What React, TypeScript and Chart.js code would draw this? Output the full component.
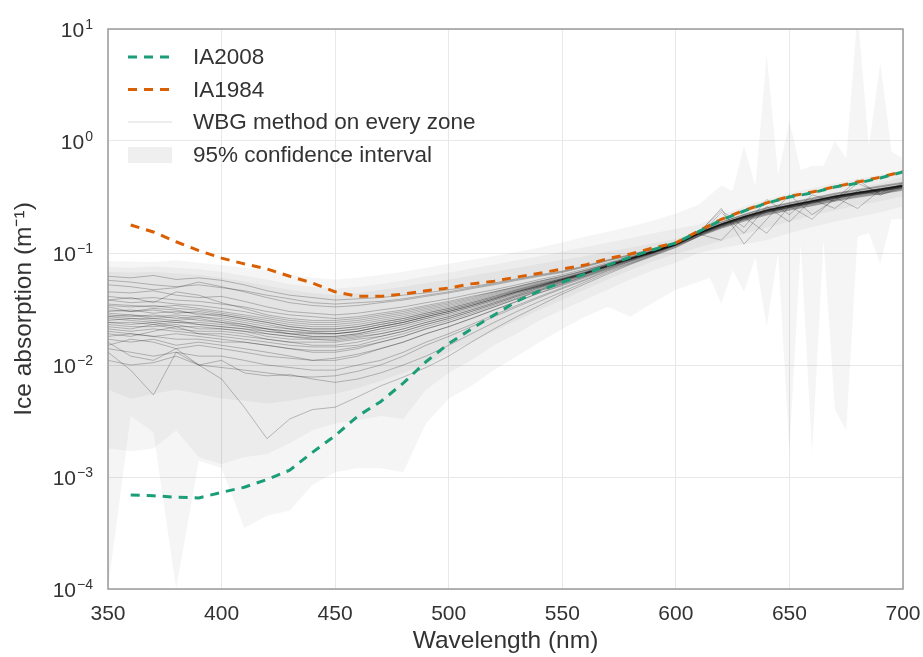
import React, { useEffect, useRef } from 'react';
import { Chart, registerables } from 'chart.js';

Chart.register(...registerables);

// ---------- data ----------
const wavelengths = [350, 360, 370, 380, 390, 400, 410, 420, 430, 440, 450, 460, 470, 480, 490, 500, 510, 520, 530, 540, 550, 560, 570, 580, 590, 600, 610, 620, 630, 640, 650, 660, 670, 680, 690, 700];
const iaWavelengths = [360, 370, 380, 390, 400, 410, 420, 430, 440, 450, 460, 470, 480, 490, 500, 510, 520, 530, 540, 550, 560, 570, 580, 590, 600, 610, 620, 630, 640, 650, 660, 670, 680, 690, 700];
const ciOuterWavelengths = [350, 360, 370, 380, 390, 400, 410, 420, 430, 440, 450, 460, 470, 480, 490, 500, 510, 520, 530, 540, 550, 560, 570, 580, 590, 600, 610, 615, 620, 625, 630, 635, 640, 645, 650, 655, 660, 665, 670, 675, 680, 685, 690, 695, 700];

const ia2008 = [0.00069, 0.00068, 0.00066, 0.00065, 0.00073, 0.00081, 0.00095, 0.00115, 0.00166, 0.00234, 0.0035, 0.0047, 0.0069, 0.0107, 0.0155, 0.021, 0.028, 0.037, 0.046, 0.055, 0.065, 0.078, 0.092, 0.107, 0.123, 0.155, 0.197, 0.237, 0.279, 0.316, 0.343, 0.389, 0.42, 0.468, 0.528];
const ia1984 = [0.178, 0.154, 0.126, 0.105, 0.09, 0.08, 0.072, 0.062, 0.054, 0.045, 0.041, 0.041, 0.043, 0.046, 0.0487, 0.053, 0.056, 0.061, 0.066, 0.072, 0.078, 0.089, 0.098, 0.111, 0.123, 0.157, 0.2, 0.24, 0.28, 0.32, 0.35, 0.39, 0.43, 0.475, 0.535];

// WBG method on every zone (one list per zone)
const zone01 = [0.062, 0.060, 0.063, 0.058, 0.060, 0.057, 0.052, 0.046, 0.042, 0.040, 0.038, 0.039, 0.040, 0.042, 0.044, 0.047, 0.050, 0.054, 0.059, 0.064, 0.069, 0.077, 0.087, 0.097, 0.109, 0.124, 0.158, 0.190, 0.222, 0.255, 0.282, 0.310, 0.342, 0.368, 0.398, 0.428];
const zone02 = [0.052, 0.050, 0.047, 0.049, 0.055, 0.050, 0.045, 0.040, 0.036, 0.034, 0.033, 0.034, 0.036, 0.038, 0.041, 0.044, 0.048, 0.052, 0.057, 0.062, 0.067, 0.075, 0.085, 0.095, 0.108, 0.123, 0.155, 0.186, 0.218, 0.250, 0.276, 0.302, 0.333, 0.360, 0.388, 0.418];
const zone03 = [0.045, 0.044, 0.046, 0.042, 0.040, 0.041, 0.037, 0.033, 0.030, 0.029, 0.028, 0.029, 0.031, 0.033, 0.036, 0.039, 0.043, 0.047, 0.052, 0.058, 0.064, 0.072, 0.082, 0.093, 0.106, 0.122, 0.153, 0.183, 0.214, 0.245, 0.270, 0.296, 0.326, 0.352, 0.378, 0.408];
const zone04 = [0.035, 0.034, 0.033, 0.034, 0.032, 0.030, 0.028, 0.026, 0.024, 0.023, 0.023, 0.024, 0.026, 0.028, 0.031, 0.034, 0.038, 0.043, 0.048, 0.054, 0.060, 0.068, 0.079, 0.090, 0.104, 0.121, 0.151, 0.181, 0.211, 0.241, 0.266, 0.291, 0.321, 0.346, 0.372, 0.402];
const zone05 = [0.028, 0.027, 0.028, 0.026, 0.027, 0.025, 0.023, 0.021, 0.020, 0.019, 0.019, 0.020, 0.022, 0.024, 0.027, 0.030, 0.034, 0.039, 0.045, 0.051, 0.058, 0.066, 0.077, 0.089, 0.103, 0.120, 0.150, 0.180, 0.210, 0.240, 0.265, 0.290, 0.320, 0.345, 0.370, 0.400];
const zone06 = [0.026, 0.025, 0.024, 0.025, 0.023, 0.022, 0.021, 0.020, 0.019, 0.018, 0.018, 0.019, 0.021, 0.023, 0.026, 0.029, 0.033, 0.038, 0.044, 0.050, 0.057, 0.066, 0.076, 0.088, 0.102, 0.120, 0.149, 0.179, 0.208, 0.238, 0.262, 0.287, 0.317, 0.342, 0.366, 0.396];
const zone07 = [0.022, 0.021, 0.023, 0.021, 0.020, 0.020, 0.019, 0.017, 0.016, 0.016, 0.016, 0.017, 0.018, 0.020, 0.023, 0.026, 0.030, 0.035, 0.041, 0.048, 0.055, 0.064, 0.075, 0.087, 0.101, 0.119, 0.147, 0.176, 0.205, 0.234, 0.258, 0.283, 0.312, 0.337, 0.361, 0.390];
const zone08 = [0.020, 0.019, 0.018, 0.019, 0.018, 0.017, 0.016, 0.015, 0.014, 0.013, 0.013, 0.014, 0.016, 0.018, 0.021, 0.024, 0.028, 0.033, 0.039, 0.046, 0.053, 0.062, 0.073, 0.085, 0.100, 0.118, 0.145, 0.173, 0.201, 0.229, 0.253, 0.277, 0.305, 0.330, 0.354, 0.382];
const zone09 = [0.017, 0.016, 0.017, 0.015, 0.016, 0.015, 0.014, 0.013, 0.012, 0.011, 0.011, 0.012, 0.014, 0.016, 0.019, 0.022, 0.026, 0.031, 0.037, 0.044, 0.052, 0.061, 0.072, 0.084, 0.099, 0.117, 0.143, 0.170, 0.197, 0.224, 0.248, 0.271, 0.298, 0.322, 0.346, 0.373];
const zone10 = [0.014, 0.013, 0.012, 0.013, 0.012, 0.012, 0.011, 0.010, 0.0095, 0.009, 0.009, 0.010, 0.011, 0.013, 0.016, 0.019, 0.023, 0.028, 0.034, 0.041, 0.049, 0.058, 0.070, 0.082, 0.097, 0.116, 0.141, 0.168, 0.195, 0.221, 0.244, 0.267, 0.294, 0.318, 0.341, 0.368];
const zone11 = [0.011, 0.010, 0.0105, 0.012, 0.010, 0.0095, 0.009, 0.0085, 0.008, 0.0078, 0.008, 0.0088, 0.010, 0.012, 0.015, 0.018, 0.022, 0.027, 0.033, 0.040, 0.048, 0.057, 0.069, 0.081, 0.096, 0.115, 0.140, 0.166, 0.192, 0.218, 0.241, 0.264, 0.290, 0.314, 0.337, 0.363];
const zone12 = [0.016, 0.012, 0.011, 0.014, 0.010, 0.0075, 0.0042, 0.0022, 0.0033, 0.0040, 0.0042, 0.0052, 0.0065, 0.0078, 0.0095, 0.012, 0.016, 0.021, 0.027, 0.034, 0.043, 0.053, 0.065, 0.079, 0.094, 0.112, 0.140, 0.230, 0.150, 0.260, 0.190, 0.300, 0.250, 0.360, 0.330, 0.380];
const zone13 = [0.013, 0.009, 0.0054, 0.013, 0.010, 0.011, 0.0085, 0.0080, 0.0082, 0.0075, 0.0070, 0.0075, 0.0085, 0.010, 0.012, 0.015, 0.019, 0.024, 0.030, 0.037, 0.045, 0.055, 0.067, 0.080, 0.095, 0.113, 0.142, 0.172, 0.200, 0.230, 0.255, 0.280, 0.308, 0.333, 0.357, 0.385];
const zone14 = [0.038, 0.040, 0.036, 0.045, 0.042, 0.036, 0.032, 0.028, 0.026, 0.025, 0.025, 0.026, 0.028, 0.030, 0.033, 0.036, 0.040, 0.045, 0.050, 0.056, 0.062, 0.070, 0.080, 0.092, 0.105, 0.121, 0.152, 0.240, 0.170, 0.300, 0.220, 0.330, 0.290, 0.420, 0.340, 0.420];
const zone15 = [0.030, 0.031, 0.029, 0.030, 0.029, 0.027, 0.025, 0.023, 0.021, 0.020, 0.020, 0.021, 0.023, 0.025, 0.028, 0.031, 0.035, 0.040, 0.046, 0.052, 0.059, 0.067, 0.078, 0.089, 0.103, 0.120, 0.150, 0.180, 0.210, 0.239, 0.264, 0.289, 0.319, 0.344, 0.369, 0.399];
const zone16 = [0.024, 0.023, 0.024, 0.022, 0.022, 0.021, 0.020, 0.018, 0.017, 0.017, 0.017, 0.018, 0.019, 0.021, 0.024, 0.027, 0.031, 0.036, 0.042, 0.049, 0.056, 0.065, 0.076, 0.088, 0.102, 0.119, 0.148, 0.130, 0.210, 0.150, 0.262, 0.200, 0.315, 0.250, 0.365, 0.395];
const zone17 = [0.019, 0.018, 0.020, 0.022, 0.019, 0.018, 0.017, 0.016, 0.015, 0.0145, 0.0145, 0.015, 0.017, 0.019, 0.022, 0.025, 0.029, 0.034, 0.040, 0.047, 0.054, 0.063, 0.074, 0.086, 0.100, 0.118, 0.146, 0.174, 0.203, 0.232, 0.256, 0.280, 0.309, 0.334, 0.358, 0.386];
const zone18 = [0.033, 0.030, 0.032, 0.031, 0.028, 0.028, 0.026, 0.024, 0.022, 0.021, 0.021, 0.022, 0.024, 0.026, 0.029, 0.032, 0.036, 0.041, 0.047, 0.053, 0.059, 0.067, 0.078, 0.090, 0.104, 0.121, 0.151, 0.181, 0.211, 0.241, 0.266, 0.291, 0.321, 0.346, 0.371, 0.401];
const zone19 = [0.027, 0.026, 0.026, 0.027, 0.025, 0.024, 0.022, 0.021, 0.019, 0.019, 0.019, 0.020, 0.022, 0.024, 0.027, 0.030, 0.034, 0.039, 0.045, 0.051, 0.058, 0.066, 0.077, 0.089, 0.103, 0.120, 0.150, 0.250, 0.120, 0.200, 0.330, 0.220, 0.300, 0.450, 0.330, 0.400];
const zone20 = [0.015, 0.017, 0.016, 0.014, 0.015, 0.014, 0.013, 0.012, 0.0115, 0.011, 0.0115, 0.0125, 0.014, 0.016, 0.019, 0.022, 0.026, 0.031, 0.037, 0.044, 0.051, 0.060, 0.071, 0.084, 0.098, 0.117, 0.144, 0.171, 0.199, 0.226, 0.250, 0.274, 0.301, 0.326, 0.350, 0.377];
const zone21 = [0.057, 0.055, 0.052, 0.050, 0.052, 0.049, 0.046, 0.042, 0.039, 0.036, 0.035, 0.036, 0.037, 0.039, 0.042, 0.045, 0.049, 0.053, 0.058, 0.063, 0.068, 0.076, 0.086, 0.096, 0.108, 0.123, 0.156, 0.188, 0.220, 0.252, 0.279, 0.306, 0.338, 0.364, 0.392, 0.422];
const zone22 = [0.041, 0.039, 0.040, 0.038, 0.037, 0.035, 0.033, 0.030, 0.028, 0.027, 0.026, 0.027, 0.029, 0.031, 0.034, 0.037, 0.041, 0.045, 0.050, 0.056, 0.062, 0.070, 0.080, 0.091, 0.105, 0.121, 0.152, 0.182, 0.213, 0.243, 0.268, 0.293, 0.323, 0.348, 0.374, 0.404];
const zone23 = [0.031, 0.030, 0.031, 0.029, 0.030, 0.028, 0.026, 0.024, 0.022, 0.021, 0.021, 0.022, 0.024, 0.026, 0.029, 0.032, 0.036, 0.041, 0.046, 0.052, 0.058, 0.066, 0.077, 0.089, 0.103, 0.120, 0.150, 0.181, 0.211, 0.240, 0.265, 0.290, 0.320, 0.345, 0.371, 0.400];
const zone24 = [0.025, 0.026, 0.025, 0.024, 0.024, 0.023, 0.022, 0.020, 0.019, 0.018, 0.018, 0.019, 0.021, 0.023, 0.026, 0.029, 0.033, 0.038, 0.044, 0.050, 0.057, 0.065, 0.076, 0.088, 0.102, 0.119, 0.149, 0.178, 0.208, 0.237, 0.262, 0.287, 0.316, 0.341, 0.366, 0.395];
const zone25 = [0.023, 0.022, 0.022, 0.023, 0.021, 0.021, 0.020, 0.019, 0.018, 0.017, 0.0165, 0.0175, 0.019, 0.021, 0.024, 0.027, 0.031, 0.036, 0.042, 0.049, 0.056, 0.065, 0.076, 0.088, 0.101, 0.119, 0.148, 0.177, 0.206, 0.235, 0.260, 0.284, 0.313, 0.338, 0.363, 0.392];
const zone26 = [0.029, 0.028, 0.027, 0.028, 0.027, 0.026, 0.024, 0.022, 0.021, 0.020, 0.020, 0.021, 0.023, 0.025, 0.028, 0.031, 0.035, 0.040, 0.045, 0.051, 0.058, 0.066, 0.077, 0.089, 0.102, 0.120, 0.150, 0.179, 0.209, 0.239, 0.264, 0.289, 0.318, 0.343, 0.368, 0.398];
const zone27 = [0.021, 0.020, 0.021, 0.020, 0.019, 0.019, 0.018, 0.017, 0.016, 0.015, 0.015, 0.016, 0.018, 0.020, 0.023, 0.026, 0.030, 0.035, 0.041, 0.047, 0.055, 0.064, 0.075, 0.087, 0.101, 0.118, 0.147, 0.176, 0.205, 0.233, 0.257, 0.282, 0.311, 0.336, 0.360, 0.389];
const zone28 = [0.034, 0.033, 0.034, 0.032, 0.031, 0.029, 0.027, 0.025, 0.023, 0.022, 0.022, 0.023, 0.025, 0.027, 0.030, 0.033, 0.037, 0.042, 0.047, 0.053, 0.059, 0.067, 0.078, 0.090, 0.104, 0.121, 0.151, 0.181, 0.212, 0.242, 0.267, 0.292, 0.322, 0.347, 0.373, 0.403];
const zone29 = [0.027, 0.028, 0.026, 0.025, 0.026, 0.024, 0.023, 0.021, 0.020, 0.0195, 0.019, 0.020, 0.022, 0.024, 0.027, 0.030, 0.034, 0.039, 0.045, 0.051, 0.058, 0.066, 0.077, 0.089, 0.102, 0.120, 0.149, 0.179, 0.209, 0.238, 0.263, 0.288, 0.317, 0.342, 0.367, 0.397];
const zone30 = [0.018, 0.019, 0.018, 0.017, 0.017, 0.016, 0.016, 0.015, 0.014, 0.0135, 0.0135, 0.0145, 0.016, 0.018, 0.021, 0.024, 0.028, 0.033, 0.039, 0.046, 0.053, 0.062, 0.073, 0.086, 0.100, 0.118, 0.146, 0.175, 0.203, 0.231, 0.255, 0.279, 0.307, 0.332, 0.356, 0.384];
const zone31 = [0.038, 0.036, 0.037, 0.035, 0.034, 0.032, 0.030, 0.027, 0.025, 0.024, 0.024, 0.025, 0.027, 0.029, 0.032, 0.035, 0.039, 0.044, 0.049, 0.055, 0.061, 0.069, 0.079, 0.091, 0.104, 0.121, 0.152, 0.182, 0.213, 0.243, 0.268, 0.293, 0.323, 0.348, 0.374, 0.404];
const zone32 = [0.024, 0.024, 0.023, 0.024, 0.023, 0.022, 0.021, 0.019, 0.018, 0.0175, 0.0175, 0.0185, 0.020, 0.022, 0.025, 0.028, 0.032, 0.037, 0.043, 0.050, 0.057, 0.065, 0.076, 0.088, 0.102, 0.119, 0.148, 0.178, 0.207, 0.236, 0.261, 0.286, 0.315, 0.340, 0.365, 0.394];

const zones = [zone01, zone02, zone03, zone04, zone05, zone06, zone07, zone08, zone09, zone10, zone11, zone12, zone13, zone14, zone15, zone16, zone17, zone18, zone19, zone20, zone21, zone22, zone23, zone24, zone25, zone26, zone27, zone28, zone29, zone30, zone31, zone32];

// 95% confidence interval (layered bands)
const ciOuterUpper = [0.085, 0.084, 0.083, 0.086, 0.082, 0.078, 0.074, 0.070, 0.064, 0.060, 0.058, 0.060, 0.064, 0.068, 0.074, 0.080, 0.087, 0.094, 0.102, 0.112, 0.125, 0.140, 0.155, 0.172, 0.195, 0.225, 0.270, 0.330, 0.400, 0.360, 0.900, 0.400, 6.0, 0.500, 1.5, 0.550, 0.600, 0.600, 1.0, 0.700, 14, 0.900, 5.0, 0.800, 0.700];
const ciOuterLower = [0.0001, 0.0035, 0.0025, 0.0001, 0.0014, 0.0012, 0.00035, 0.00045, 0.0005, 0.00085, 0.0011, 0.0012, 0.0012, 0.0011, 0.003, 0.005, 0.0065, 0.009, 0.012, 0.016, 0.021, 0.027, 0.033, 0.027, 0.036, 0.047, 0.055, 0.060, 0.035, 0.070, 0.045, 0.090, 0.022, 0.100, 0.0017, 0.120, 0.0016, 0.130, 0.0040, 0.0026, 0.140, 0.150, 0.080, 0.200, 0.200];
const ciMidUpper = [0.075, 0.074, 0.076, 0.074, 0.072, 0.068, 0.063, 0.058, 0.053, 0.050, 0.048, 0.050, 0.053, 0.057, 0.062, 0.067, 0.073, 0.079, 0.086, 0.094, 0.103, 0.113, 0.124, 0.136, 0.150, 0.165, 0.180, 0.220, 0.260, 0.300, 0.340, 0.380, 0.420, 0.460, 0.500, 0.550];
const ciMidLower = [0.0018, 0.0017, 0.0018, 0.0026, 0.0015, 0.0013, 0.0015, 0.0016, 0.0020, 0.0026, 0.0030, 0.0032, 0.0035, 0.0033, 0.0060, 0.0085, 0.011, 0.015, 0.019, 0.025, 0.031, 0.038, 0.047, 0.058, 0.070, 0.082, 0.100, 0.110, 0.120, 0.130, 0.150, 0.170, 0.190, 0.210, 0.230, 0.260];
const ciInnerUpper = [0.068, 0.067, 0.068, 0.066, 0.064, 0.060, 0.056, 0.051, 0.047, 0.044, 0.042, 0.044, 0.047, 0.050, 0.054, 0.058, 0.063, 0.068, 0.074, 0.080, 0.087, 0.094, 0.103, 0.112, 0.122, 0.134, 0.152, 0.185, 0.210, 0.240, 0.280, 0.310, 0.340, 0.380, 0.420, 0.480];
const ciInnerLower = [0.0060, 0.0050, 0.0055, 0.0060, 0.0055, 0.0050, 0.0048, 0.0045, 0.0048, 0.0052, 0.0055, 0.0062, 0.0072, 0.0085, 0.010, 0.013, 0.016, 0.020, 0.025, 0.031, 0.038, 0.047, 0.058, 0.070, 0.084, 0.098, 0.112, 0.128, 0.147, 0.168, 0.190, 0.215, 0.240, 0.265, 0.290, 0.320];

const xTickValues = [350, 400, 450, 500, 550, 600, 650, 700];
const yTickValues = [0.0001, 0.001, 0.01, 0.1, 1, 10];
const yTickExponents = ['\u22124', '\u22123', '\u22122', '\u22121', '0', '1'];

const legendLabels = ['IA2008', 'IA1984', 'WBG method on every zone', '95% confidence interval'];

// ---------- styles ----------
const FONT = '"Liberation Sans", Arial, Helvetica, sans-serif';
const TEXT = '#333333';
const GREEN = '#1b9e77';
const ORANGE = '#d95f02';
const ZONE_COLOR = 'rgba(0,0,0,0.24)';
const BAND_COLOR = 'rgba(0,0,0,0.04)';
const DASH = [9, 7];

const toPoints = (xs: number[], ys: number[]) => xs.map((x, i) => ({ x, y: ys[i] }));

const yLabelPlugin = {
  id: 'yLabelPlugin',
  afterDraw(chart: any) {
    const ctx = chart.ctx;
    const ys = chart.scales.y;
    ctx.save();
    ctx.fillStyle = TEXT;
    ctx.textAlign = 'right';
    ctx.textBaseline = 'alphabetic';
    const right = 93;
    yTickValues.forEach((v, i) => {
      const py = ys.getPixelForValue(v);
      const exp = yTickExponents[i];
      ctx.font = `14px ${FONT}`;
      ctx.fillText(exp, right, py - 0.5);
      const w = ctx.measureText(exp).width;
      ctx.font = `21px ${FONT}`;
      ctx.fillText('10', right - w - 1, py + 7.5);
    });
    ctx.restore();
  },
};

const framePlugin = {
  id: 'framePlugin',
  afterDatasetsDraw(chart: any) {
    const { ctx, chartArea } = chart;
    ctx.save();
    ctx.strokeStyle = '#9a9a9a';
    ctx.lineWidth = 1.5;
    ctx.strokeRect(chartArea.left, chartArea.top, chartArea.right - chartArea.left, chartArea.bottom - chartArea.top);
    ctx.restore();
  },
};

const legendPlugin = {
  id: 'customLegend',
  afterDraw(chart: any) {
    const ctx = chart.ctx;
    const x0 = 128;
    const x1 = 172;
    const tx = 193;
    const rows = [57, 89.5, 122, 155];
    ctx.save();
    ctx.lineWidth = 3;
    ctx.setLineDash(DASH);
    ctx.strokeStyle = GREEN;
    ctx.beginPath(); ctx.moveTo(x0, rows[0]); ctx.lineTo(x1, rows[0]); ctx.stroke();
    ctx.strokeStyle = ORANGE;
    ctx.beginPath(); ctx.moveTo(x0, rows[1]); ctx.lineTo(x1, rows[1]); ctx.stroke();
    ctx.setLineDash([]);
    ctx.lineWidth = 1;
    ctx.strokeStyle = 'rgba(0,0,0,0.15)';
    ctx.beginPath(); ctx.moveTo(x0, rows[2]); ctx.lineTo(x1, rows[2]); ctx.stroke();
    ctx.fillStyle = '#efefef';
    ctx.fillRect(x0, rows[3] - 8, x1 - x0, 16);
    ctx.fillStyle = TEXT;
    ctx.font = `22.5px ${FONT}`;
    ctx.textAlign = 'left';
    ctx.textBaseline = 'middle';
    legendLabels.forEach((t, i) => ctx.fillText(t, tx, rows[i] + 1));
    ctx.restore();
  },
};

export default function App() {
  const ref = useRef<HTMLCanvasElement | null>(null);

  useEffect(() => {
    if (!ref.current) return;
    const datasets: any[] = [];
    datasets.push({
      label: 'IA2008', data: toPoints(iaWavelengths, ia2008), borderColor: GREEN, borderWidth: 3,
      borderDash: DASH, pointRadius: 0, fill: false, tension: 0,
    });
    datasets.push({
      label: 'IA1984', data: toPoints(iaWavelengths, ia1984), borderColor: ORANGE, borderWidth: 3,
      borderDash: DASH, pointRadius: 0, fill: false, tension: 0,
    });
    zones.forEach((z, i) => {
      datasets.push({
        label: `zone ${i + 1}`, data: toPoints(wavelengths, z), borderColor: ZONE_COLOR, borderWidth: 1,
        pointRadius: 0, fill: false, tension: 0,
      });
    });
    const bands: [number[], number[], number[]][] = [
      [wavelengths, ciInnerUpper, ciInnerLower],
      [wavelengths, ciMidUpper, ciMidLower],
      [ciOuterWavelengths, ciOuterUpper, ciOuterLower],
    ];
    bands.forEach(([xs, up, lo], i) => {
      datasets.push({
        label: `ci up ${i}`, data: toPoints(xs, up), borderColor: 'rgba(0,0,0,0)', borderWidth: 0,
        backgroundColor: BAND_COLOR, pointRadius: 0, fill: '+1', tension: 0,
      });
      datasets.push({
        label: `ci lo ${i}`, data: toPoints(xs, lo), borderColor: 'rgba(0,0,0,0)', borderWidth: 0,
        pointRadius: 0, fill: false, tension: 0,
      });
    });

    const chart = new Chart(ref.current, {
      type: 'line',
      data: { datasets },
      options: {
        animation: false,
        responsive: false,
        maintainAspectRatio: false,
        layout: { padding: { left: 0, right: 20, top: 29, bottom: 0 } },
        plugins: { legend: { display: false }, tooltip: { enabled: false } },
        scales: {
          x: {
            type: 'linear',
            min: 350,
            max: 700,
            afterBuildTicks: (scale: any) => { scale.ticks = xTickValues.map((v) => ({ value: v })); },
            afterFit: (scale: any) => {
              scale.height = 68;
              scale.paddingLeft = 0;
              scale.paddingRight = 0;
            },
            grid: { color: '#e8e8e8', lineWidth: 1, drawTicks: false },
            border: { display: false },
            ticks: { color: TEXT, font: { family: FONT, size: 21 }, padding: 13, maxRotation: 0 },
            title: { display: true, text: 'Wavelength (nm)', color: TEXT, font: { family: FONT, size: 24.5 }, padding: { top: 0, bottom: 1 } },
          },
          y: {
            type: 'logarithmic',
            min: 0.0001,
            max: 10,
            afterBuildTicks: (scale: any) => { scale.ticks = yTickValues.map((v) => ({ value: v })); },
            afterFit: (scale: any) => {
              scale.width = 108;
              scale.paddingTop = 0;
              scale.paddingBottom = 0;
            },
            grid: { color: '#e8e8e8', lineWidth: 1, drawTicks: false },
            border: { display: false },
            ticks: { display: false },
            title: { display: true, text: 'Ice absorption (m\u207B\u00B9)', color: TEXT, font: { family: FONT, size: 24.5 }, padding: { top: 10, bottom: 0 } },
          },
        },
      },
      plugins: [framePlugin, yLabelPlugin, legendPlugin],
    } as any);
    return () => chart.destroy();
  }, []);

  return (
    <div style={{ position: 'fixed', left: 0, top: 0, width: 923, height: 657, background: '#fff' }}>
      <canvas ref={ref} width={923} height={657} style={{ display: 'block' }} />
    </div>
  );
}
